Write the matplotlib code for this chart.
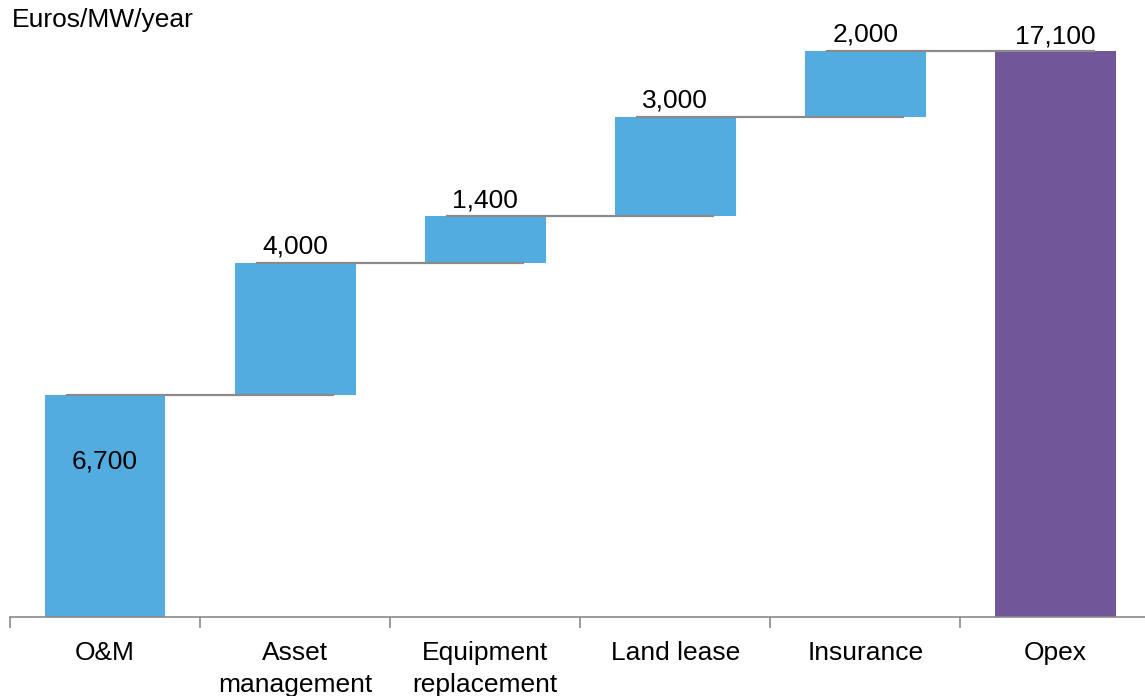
import matplotlib
matplotlib.use("Agg")
import matplotlib.pyplot as plt
import numpy as np

plt.rcParams['font.family'] = ['Liberation Sans', 'DejaVu Sans']

# Cost components and the total
categories = ['O&M', 'Asset\nmanagement', 'Equipment\nreplacement', 'Land lease', 'Insurance', 'Opex']
steps = [6700, 4000, 1400, 3000, 2000]
total = 17100
labels = ['6,700', '4,000', '1,400', '3,000', '2,000', '17,100']

blue = '#52acdf'
purple = '#715799'
grey = '#8a8a8a'
fs = 19

fig = plt.figure(figsize=(11.45, 6.96), dpi=100)
ax = fig.add_axes([10 / 1145, 79 / 696, 1140.6 / 1145, 596 / 696])

x = np.arange(len(categories))
width = 0.635

# waterfall: each step starts where the previous one ended
bottoms = np.concatenate([[0], np.cumsum(steps)[:-1]])
tops = np.cumsum(steps)
ax.bar(x[:-1], steps, bottom=bottoms, width=width, color=blue, zorder=2)
ax.bar(x[-1], total, width=width, color=purple, zorder=2)

# connector lines between consecutive bars
for i in range(len(steps)):
    ax.plot([x[i] - 0.2, x[i + 1] + 0.2], [tops[i], tops[i]], color=grey, lw=1.6, zorder=3)

# value labels
for i in range(1, len(steps)):
    ax.annotate(labels[i], (x[i], tops[i]), xytext=(0, 6.5), textcoords='offset points',
                ha='center', va='baseline', fontsize=fs)
ax.annotate(labels[-1], (x[-1], total), xytext=(0, 5), textcoords='offset points',
            ha='center', va='baseline', fontsize=fs)
ax.text(x[0], steps[0] * 0.7, labels[0], ha='center', va='center', fontsize=fs)

ax.set_xlim(-0.5, len(categories) - 0.5)
ax.set_ylim(0, 18000)

# category ticks at the boundaries, labels at the centres
ax.set_xticks(np.arange(-0.5, len(categories), 1.0))
ax.set_xticklabels([])
ax.set_xticks(x, minor=True)
ax.set_xticklabels(categories, minor=True, fontsize=fs, linespacing=1.45)
ax.tick_params(axis='x', which='major', direction='out', length=8, width=1.2, color=grey)
ax.tick_params(axis='x', which='minor', length=0, pad=17)
ax.set_yticks([])

for side in ['left', 'right', 'top']:
    ax.spines[side].set_visible(False)
ax.spines['bottom'].set_color(grey)
ax.spines['bottom'].set_linewidth(1.2)

fig.text(12 / 1145, 1 - 8 / 696, 'Euros/MW/year', ha='left', va='top', fontsize=fs)

fig.savefig('out.png', dpi=100)
